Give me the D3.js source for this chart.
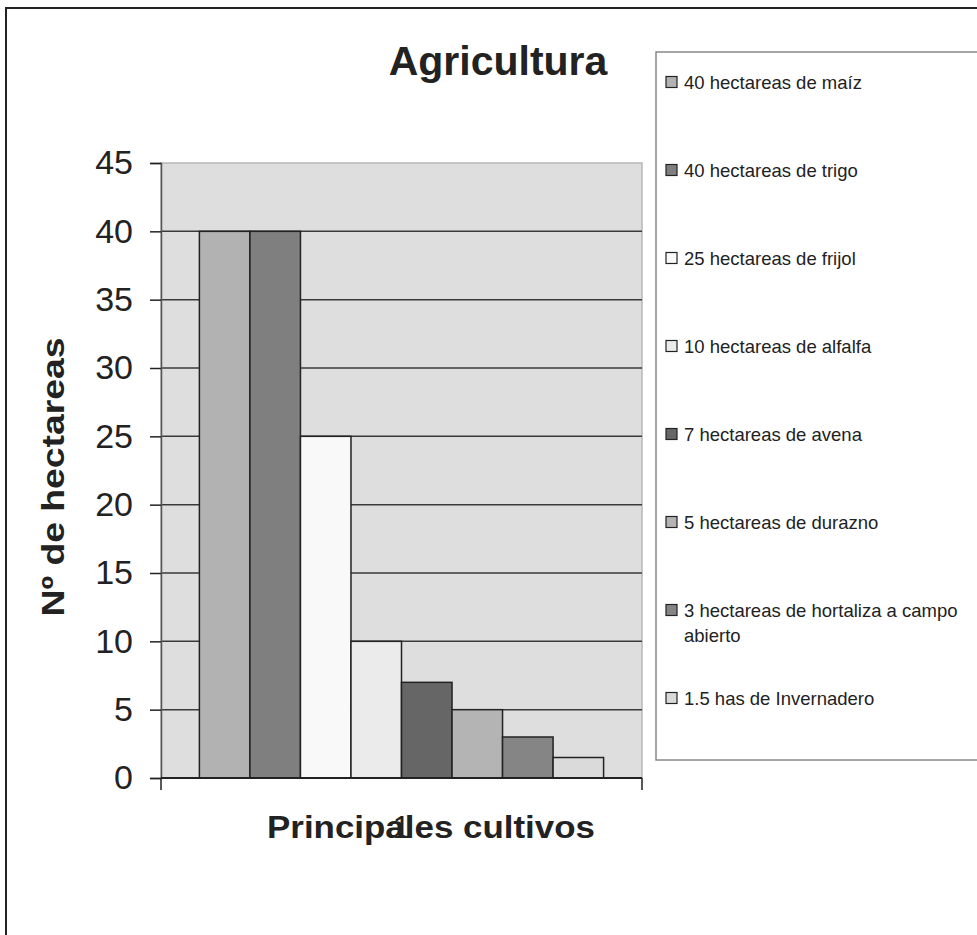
<!DOCTYPE html>
<html>
<head>
<meta charset="utf-8">
<script src="https://d3js.org/d3.v7.min.js"></script>
<style>
  body { margin: 0; background: #fff; }
  text { font-family: "Liberation Sans", Arial, sans-serif; fill: #222; }
</style>
</head>
<body>
<script>
    // data
    let categories = ["1"];
    let seriesNames = [
        "40 hectareas de maíz",
        "40 hectareas de trigo",
        "25 hectareas de frijol",
        "10 hectareas de alfalfa",
        "7 hectareas de avena",
        "5 hectareas de durazno",
        "3 hectareas de hortaliza a campo|abierto",
        "1.5 has de Invernadero"
    ];
    let seriesValues = [40, 40, 25, 10, 7, 5, 3, 1.5];
    let seriesColors = ["#b2b2b2", "#7f7f7f", "#f9f9f9", "#ebebeb", "#666666", "#b4b4b4", "#858585", "#dadada"];
    let yTicks = [0, 5, 10, 15, 20, 25, 30, 35, 40, 45];

    let width = 977;
    let height = 935;
    let plot = {left: 161, right: 642, top: 163, bottom: 778};

    let svg = d3.select("body").append("svg")
        .attr("width", width)
        .attr("height", height);

    // outer chart border (runs off the right and bottom)
    svg.append("rect")
        .attr("x", 6).attr("y", 8)
        .attr("width", 1000).attr("height", 1000)
        .attr("fill", "none")
        .attr("stroke", "#222")
        .attr("stroke-width", 2);

    let y = d3.scaleLinear()
        .domain([0, 45])
        .range([plot.bottom, plot.top]);

    let x0 = d3.scaleBand()
        .domain(categories)
        .range([plot.left, plot.right])
        .paddingInner(0)
        .paddingOuter(0.095);

    let x1 = d3.scaleBand()
        .domain(d3.range(seriesValues.length))
        .range([0, x0.bandwidth()]);

    // plot background
    svg.append("rect")
        .attr("x", plot.left).attr("y", plot.top)
        .attr("width", plot.right - plot.left)
        .attr("height", plot.bottom - plot.top)
        .attr("fill", "#dedede")
        .attr("stroke", "#b8b8b8")
        .attr("stroke-width", 1.5);

    // gridlines
    svg.selectAll(".grid")
        .data(yTicks.filter(d => d > 0 && d < 45))
        .join("line")
        .attr("class", "grid")
        .attr("x1", plot.left)
        .attr("x2", plot.right)
        .attr("y1", d => y(d))
        .attr("y2", d => y(d))
        .attr("stroke", "#3a3a3a")
        .attr("stroke-width", 1.5);

    // bars
    svg.selectAll(".bar")
        .data(seriesValues)
        .join("rect")
        .attr("class", "bar")
        .attr("x", (d, i) => x0(categories[0]) + x1(i))
        .attr("y", d => y(d))
        .attr("width", x1.bandwidth())
        .attr("height", d => y(0) - y(d))
        .attr("fill", (d, i) => seriesColors[i])
        .attr("stroke", "#222")
        .attr("stroke-width", 1.5);

    // y axis
    let yAxis = svg.append("g")
        .attr("transform", `translate(${plot.left},0)`)
        .call(d3.axisLeft(y).tickValues(yTicks).tickSize(11).tickPadding(17));
    yAxis.select(".domain").attr("stroke", "#555").attr("stroke-width", 1.5);
    yAxis.selectAll(".tick line").attr("stroke", "#222").attr("stroke-width", 1.5);
    yAxis.selectAll(".tick text")
        .attr("font-size", 34)
        .attr("font-family", "Liberation Sans, Arial, sans-serif")
        .attr("fill", "#222");

    // x axis (the category label sits on top of the axis title, as in the original)
    let xAxis = svg.append("g")
        .attr("transform", `translate(0,${plot.bottom})`)
        .call(d3.axisBottom(x0).tickSize(0).tickPadding(37));
    xAxis.select(".domain").remove();
    xAxis.selectAll(".tick text")
        .attr("font-size", 32)
        .attr("font-family", "Liberation Sans, Arial, sans-serif")
        .attr("fill", "#222");
    svg.append("line")
        .attr("x1", plot.left).attr("x2", plot.right)
        .attr("y1", plot.bottom).attr("y2", plot.bottom)
        .attr("stroke", "#222").attr("stroke-width", 2);
    svg.selectAll(".xedge")
        .data([plot.left, plot.right])
        .join("line")
        .attr("class", "xedge")
        .attr("x1", d => d).attr("x2", d => d)
        .attr("y1", plot.bottom).attr("y2", plot.bottom + 12)
        .attr("stroke", "#222").attr("stroke-width", 1.5);

    // titles
    svg.append("text")
        .attr("x", 498).attr("y", 75)
        .attr("text-anchor", "middle")
        .attr("font-size", 41)
        .attr("font-weight", "bold")
        .text("Agricultura");

    svg.append("text")
        .attr("x", 431).attr("y", 838)
        .attr("text-anchor", "middle")
        .attr("font-size", 32)
        .attr("font-weight", "bold")
        .attr("textLength", 328)
        .attr("lengthAdjust", "spacingAndGlyphs")
        .text("Principales cultivos");

    svg.append("text")
        .attr("transform", "translate(64,477) rotate(-90)")
        .attr("text-anchor", "middle")
        .attr("font-size", 32)
        .attr("font-weight", "bold")
        .attr("textLength", 279)
        .attr("lengthAdjust", "spacingAndGlyphs")
        .text("Nº de hectareas");

    // legend
    let legendY = d3.scaleLinear().domain([0, 1]).range([82, 170]);
    svg.append("rect")
        .attr("x", 656).attr("y", 52)
        .attr("width", 400).attr("height", 708)
        .attr("fill", "#fff")
        .attr("stroke", "#888")
        .attr("stroke-width", 1.5);

    let items = svg.selectAll(".legend")
        .data(seriesNames)
        .join("g")
        .attr("class", "legend")
        .attr("transform", (d, i) => `translate(666,${legendY(i)})`);

    items.append("rect")
        .attr("x", 0).attr("y", -5.5)
        .attr("width", 11).attr("height", 11)
        .attr("fill", (d, i) => seriesColors[i])
        .attr("stroke", "#222")
        .attr("stroke-width", 1.2);

    items.append("text")
        .attr("x", 18)
        .attr("font-size", 18.5)
        .selectAll("tspan")
        .data(d => d.split("|"))
        .join("tspan")
        .attr("x", 18)
        .attr("dy", (d, i) => i === 0 ? 6.5 : 25)
        .text(d => d);
</script>
</body>
</html>
